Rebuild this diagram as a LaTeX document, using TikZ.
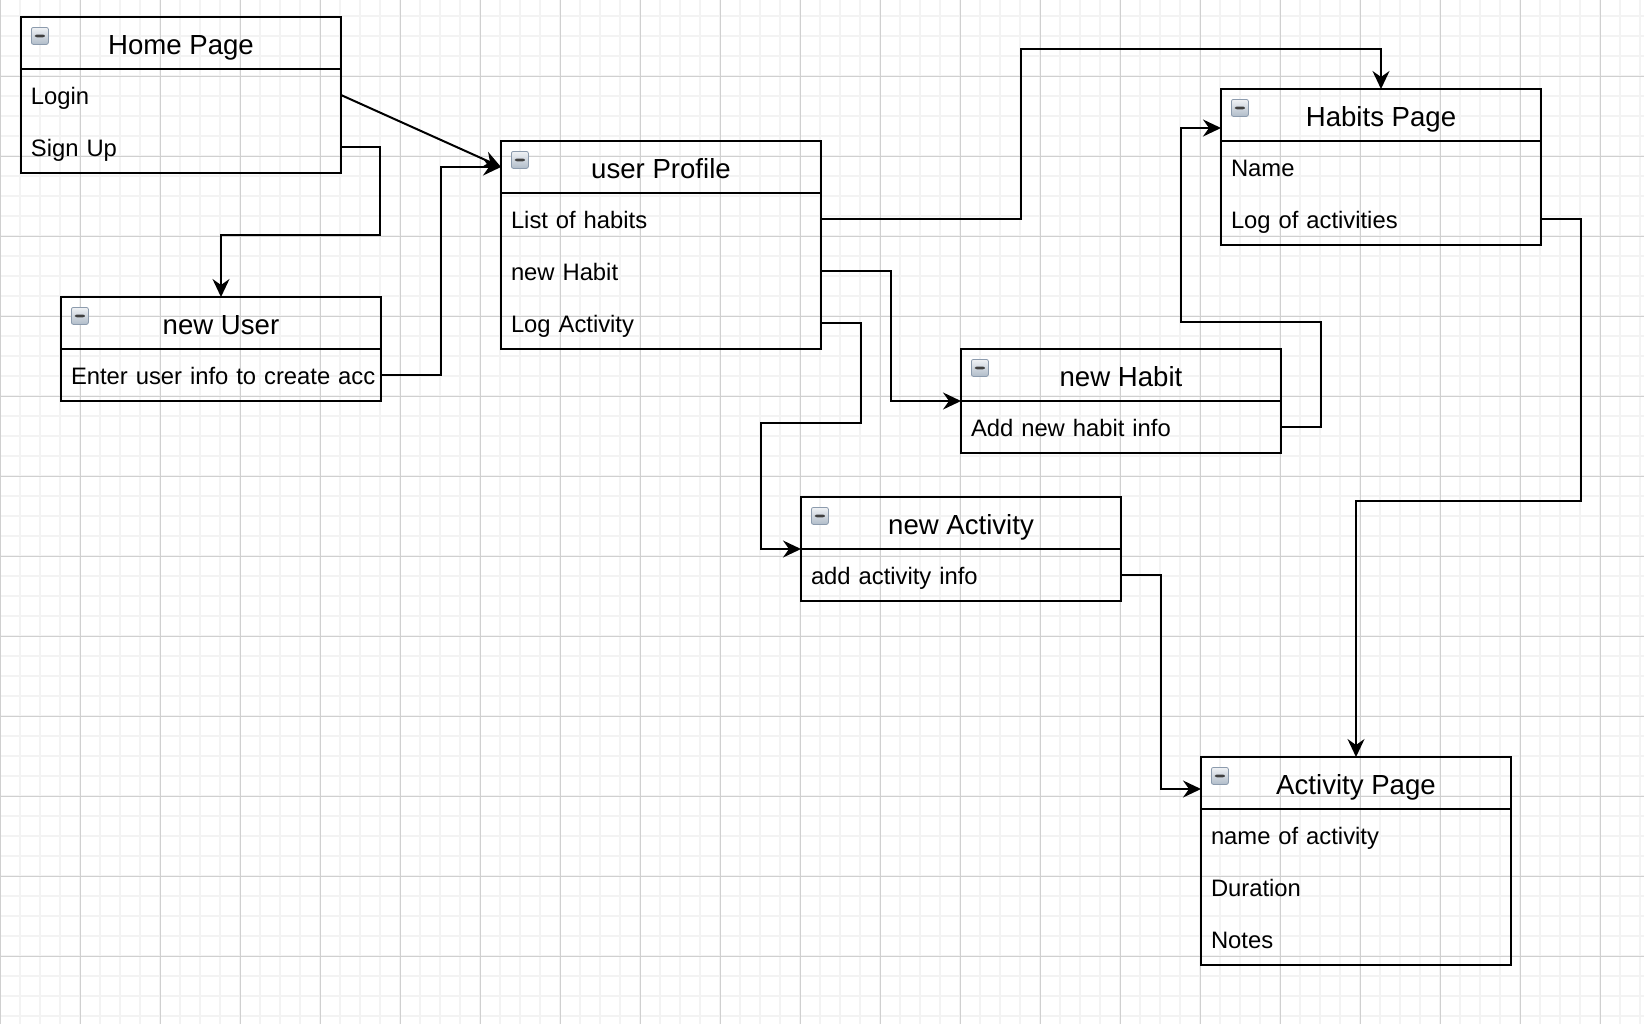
\documentclass[tikz,border=0pt]{standalone}
\usepackage{fontspec}
\setmainfont{Liberation Sans}
\usetikzlibrary{arrows.meta}
\definecolor{gridminor}{HTML}{F3F3F3}
\definecolor{gridmajor}{HTML}{D0D0D0}
\definecolor{iconedge}{HTML}{8C9BAD}
\definecolor{icontop}{HTML}{F0F2F5}
\definecolor{iconbottom}{HTML}{B0BCC9}

\begin{document}
\begin{tikzpicture}[x=0.5pt, y=-0.5pt,
  pagehead/.style={draw, line width=1pt, outer sep=0pt, minimum width=160pt, minimum height=26pt, text height=12.9pt, text depth=1pt, font=\fontsize{13.8}{16}\selectfont},
  pagerow/.style={outer sep=0pt, minimum width=160pt, minimum height=26pt, inner xsep=5pt, text width=150pt, text height=11pt, text depth=1.7pt, align=left, font=\fontsize{11.9}{14}\selectfont},
  pagebox/.style={line width=1pt},
  pagelink/.style={-{Stealth[length=9pt, width=8.5pt, inset=3pt]}, line width=1pt},
  minusicon/.style={anchor=north west, minimum size=8.5pt, inner sep=0pt, rounded corners=1pt, draw=iconedge, top color=icontop, bottom color=iconbottom,
    path picture={\fill[black!75] ([shift={(-2.5pt,-0.7pt)}]path picture bounding box.center) rectangle ([shift={(2.5pt,0.7pt)}]path picture bounding box.center);}}]
\useasboundingbox (0,0) rectangle (1644,1024);
\fill[white] (0,0) rectangle (1644,1024);

% grid
\foreach \x in {0,20,...,1640} \draw[gridminor, line width=0.75pt] (\x,0) -- (\x,1024);
\foreach \y in {16,36,...,1016} \draw[gridminor, line width=0.75pt] (0,\y) -- (1644,\y);
\foreach \x in {0,80,...,1600} \draw[gridmajor, line width=0.5pt] (\x,0) -- (\x,1024);
\foreach \y in {76,156,...,956} \draw[gridmajor, line width=0.5pt] (0,\y) -- (1644,\y);

% Home Page
\node[pagehead] (hpHead) at (181,43) {Home Page};
\node[pagerow] (hpLogin) at (181,95) {Login};
\node[pagerow] (hpSignup) at (181,147) {Sign Up};
\draw[pagebox] (hpHead.north west) rectangle (hpSignup.south east);
\node[minusicon] (hpIcon) at ([xshift=5pt,yshift=-5pt]hpHead.north west) {};

% new User
\node[pagehead] (nuHead) at (221,323) {new User};
\node[pagerow] (nuInfo) at (221,375) {\mbox{Enter user info to create acc}};
\draw[pagebox] (nuHead.north west) rectangle (nuInfo.south east);
\node[minusicon] (nuIcon) at ([xshift=5pt,yshift=-5pt]nuHead.north west) {};

% user Profile
\node[pagehead] (upHead) at (661,167) {user Profile};
\node[pagerow] (upList) at (661,219) {List of habits};
\node[pagerow] (upNew) at (661,271) {new Habit};
\node[pagerow] (upLog) at (661,323) {Log Activity};
\draw[pagebox] (upHead.north west) rectangle (upLog.south east);
\node[minusicon] (upIcon) at ([xshift=5pt,yshift=-5pt]upHead.north west) {};

% Habits Page
\node[pagehead] (hbHead) at (1381,115) {Habits Page};
\node[pagerow] (hbName) at (1381,167) {Name};
\node[pagerow] (hbLog) at (1381,219) {Log of activities};
\draw[pagebox] (hbHead.north west) rectangle (hbLog.south east);
\node[minusicon] (hbIcon) at ([xshift=5pt,yshift=-5pt]hbHead.north west) {};

% new Habit
\node[pagehead] (nhHead) at (1121,375) {new Habit};
\node[pagerow] (nhInfo) at (1121,427) {Add new habit info};
\draw[pagebox] (nhHead.north west) rectangle (nhInfo.south east);
\node[minusicon] (nhIcon) at ([xshift=5pt,yshift=-5pt]nhHead.north west) {};

% new Activity
\node[pagehead] (naHead) at (961,523) {new Activity};
\node[pagerow] (naInfo) at (961,575) {add activity info};
\draw[pagebox] (naHead.north west) rectangle (naInfo.south east);
\node[minusicon] (naIcon) at ([xshift=5pt,yshift=-5pt]naHead.north west) {};

% Activity Page
\node[pagehead, minimum width=155pt] (apHead) at (1356,783) {Activity Page};
\node[pagerow, minimum width=155pt, text width=145pt] (apName) at (1356,835) {name of activity};
\node[pagerow, minimum width=155pt, text width=145pt] (apDur) at (1356,887) {Duration};
\node[pagerow, minimum width=155pt, text width=145pt] (apNotes) at (1356,939) {Notes};
\draw[pagebox] (apHead.north west) rectangle (apNotes.south east);
\node[minusicon] (apIcon) at ([xshift=5pt,yshift=-5pt]apHead.north west) {};

% links
\draw[pagelink] (hpLogin.east) -- (upHead.west);
\draw[pagelink] (hpSignup.east) -| (380,235) -| (nuHead.north);
\draw[pagelink] (nuInfo.east) -- ++(60,0) |- (upHead.west);
\draw[pagelink] (upList.east) -| (1021,49) -| (hbHead.north);
\draw[pagelink] (upNew.east) -- ++(70,0) |- (nhHead.south west);
\draw[pagelink] (upLog.east) -| (861,423) -| (761,549) -- (naHead.south west);
\draw[pagelink] (nhInfo.east) -| (1321,322) -| (1181,128) -- ([yshift=-6.5pt]hbHead.west);
\draw[pagelink] (hbLog.east) -| (1581,501) -| (apHead.north);
\draw[pagelink] (naInfo.east) -| (1161,789) -- ([yshift=-3pt]apHead.west);
\end{tikzpicture}
\end{document}
